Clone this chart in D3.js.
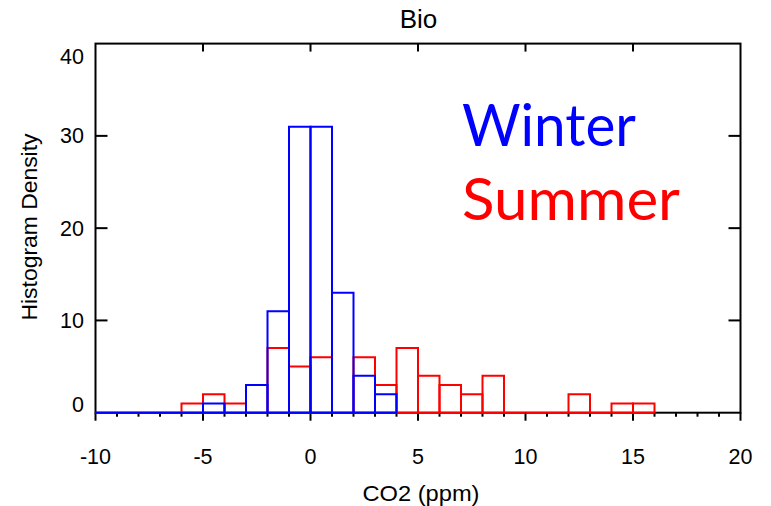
<!DOCTYPE html>
<html>
<head>
<meta charset="utf-8">
<script src="https://cdn.jsdelivr.net/npm/d3@7"></script>
<style>
  html, body { margin: 0; padding: 0; background: #fff; }
  svg { display: block; }
  text { font-family: "Liberation Sans", Arial, Helvetica, sans-serif; fill: #000; }
</style>
</head>
<body>
<svg id="chart" width="771" height="506"></svg>
<script>
// Histogram bins: lower edge of each 1-ppm bin, and counts per bin
const winterBins   = [-10, -9, -8, -7, -6, -5, -4, -3, -2, -1, 0, 1, 2, 3];
const winterCounts = [0, 0, 0, 0, 0, 1, 0, 3, 11, 31, 31, 13, 4, 2];

const summerBins   = [-10, -9, -8, -7, -6, -5, -4, -3, -2, -1, 0, 1, 2, 3, 4, 5, 6, 7, 8, 9, 10, 11, 12, 13, 14, 15];
const summerCounts = [0, 0, 0, 0, 1, 2, 1, 0, 7, 5, 6, 0, 6, 3, 7, 4, 3, 2, 4, 0, 0, 0, 2, 0, 1, 1];

const binWidth = 1;

const xMajorTicks = [-10, -5, 0, 5, 10, 15, 20];
const xMinorTicks = [-9, -8, -7, -6, -4, -3, -2, -1, 1, 2, 3, 4, 6, 7, 8, 9, 11, 12, 13, 14, 16, 17, 18, 19];
const yTicks = [0, 10, 20, 30, 40];

const svg = d3.select("#chart");

const x = d3.scaleLinear().domain([-10, 20]).range([95.5, 740.5]);
const y = d3.scaleLinear().domain([0, 40]).range([412.7, 43.6]);

const axisColor = "#000";
const axisWidth = 2;
const labelSize = 21.5;

// Frame
const frame = svg.append("g");
frame.append("rect")
  .attr("x", x(-10)).attr("y", y(40))
  .attr("width", x(20) - x(-10)).attr("height", y(0) - y(40))
  .attr("fill", "none").attr("stroke", axisColor).attr("stroke-width", axisWidth);

// Bottom axis: major + minor ticks pointing outward
frame.selectAll(".xmaj").data(xMajorTicks).enter().append("line")
  .attr("x1", d => x(d)).attr("x2", d => x(d))
  .attr("y1", y(0)).attr("y2", y(0) + 8)
  .attr("stroke", axisColor).attr("stroke-width", axisWidth);
frame.selectAll(".xmin").data(xMinorTicks).enter().append("line")
  .attr("x1", d => x(d)).attr("x2", d => x(d))
  .attr("y1", y(0)).attr("y2", y(0) + 4)
  .attr("stroke", axisColor).attr("stroke-width", axisWidth);

// Top axis: major ticks pointing inward
frame.selectAll(".xtop").data(xMajorTicks.slice(1, -1)).enter().append("line")
  .attr("x1", d => x(d)).attr("x2", d => x(d))
  .attr("y1", y(40)).attr("y2", y(40) + 8)
  .attr("stroke", axisColor).attr("stroke-width", axisWidth);

// Left and right axes: inward ticks
const innerY = yTicks.slice(1, -1);
frame.selectAll(".yl").data(innerY).enter().append("line")
  .attr("x1", x(-10)).attr("x2", x(-10) + 12)
  .attr("y1", d => y(d)).attr("y2", d => y(d))
  .attr("stroke", axisColor).attr("stroke-width", axisWidth);
frame.selectAll(".yr").data(innerY).enter().append("line")
  .attr("x1", x(20)).attr("x2", x(20) - 12)
  .attr("y1", d => y(d)).attr("y2", d => y(d))
  .attr("stroke", axisColor).attr("stroke-width", axisWidth);

// Tick labels
svg.selectAll(".xlab").data(xMajorTicks).enter().append("text")
  .attr("x", d => x(d)).attr("y", 463.5)
  .attr("text-anchor", "middle").attr("font-size", labelSize)
  .text(d => d);

// End labels sit inside the frame span
const yLabelOffset = d => d === 40 ? 20.5 : (d === 0 ? -0.5 : 7.5);
svg.selectAll(".ylab").data(yTicks).enter().append("text")
  .attr("x", 84).attr("y", d => y(d) + yLabelOffset(d))
  .attr("text-anchor", "end").attr("font-size", labelSize)
  .text(d => d);

// Titles
svg.append("text")
  .attr("x", 418.5).attr("y", 27.5)
  .attr("text-anchor", "middle").attr("font-size", 26)
  .text("Bio");

svg.append("text")
  .attr("x", 421).attr("y", 501)
  .attr("text-anchor", "middle").attr("font-size", labelSize)
  .attr("textLength", 117).attr("lengthAdjust", "spacingAndGlyphs")
  .text("CO2 (ppm)");

svg.append("text")
  .attr("transform", "translate(36.5,227) rotate(-90)")
  .attr("text-anchor", "middle").attr("font-size", labelSize)
  .attr("textLength", 187).attr("lengthAdjust", "spacingAndGlyphs")
  .text("Histogram Density");

// Step-outline histogram bars
function barPath(lo, count) {
  const x0 = x(lo), x1 = x(lo + binWidth), yb = y(0), yt = y(count);
  return `M${x0},${yb}V${yt}H${x1}V${yb}Z`;
}

function drawHist(bins, counts, color) {
  svg.append("g").selectAll("path")
    .data(bins.map((b, i) => ({ lo: b, c: counts[i] })))
    .enter().append("path")
    .attr("d", d => barPath(d.lo, d.c))
    .attr("fill", "none")
    .attr("stroke", color)
    .attr("stroke-width", 2)
    .attr("stroke-linejoin", "miter");
}

drawHist(summerBins, summerCounts, "#ff0000");
drawHist(winterBins, winterCounts, "#0000ff");

// Season legend
const legendFont = "Lato, 'Open Sans', sans-serif";
svg.append("text")
  .attr("x", 462).attr("y", 146)
  .attr("font-size", 58).style("font-family", legendFont)
  .attr("textLength", 174).attr("lengthAdjust", "spacingAndGlyphs")
  .style("fill", "#0000ff")
  .text("Winter");
svg.append("text")
  .attr("x", 462).attr("y", 220)
  .attr("font-size", 58).style("font-family", legendFont)
  .attr("textLength", 218).attr("lengthAdjust", "spacingAndGlyphs")
  .style("fill", "#ff0000")
  .text("Summer");
</script>
</body>
</html>
